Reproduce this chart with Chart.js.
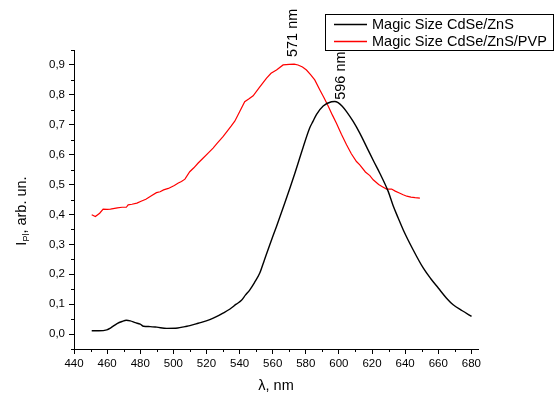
<!DOCTYPE html>
<html><head><meta charset="utf-8">
<script src="https://cdn.jsdelivr.net/npm/chart.js@4/dist/chart.umd.min.js"></script>
<style>html,body{margin:0;padding:0;background:#fff}#wrap{width:557px;height:396px}</style>
</head><body><div id="wrap"><canvas id="c" width="557" height="396"></canvas></div>
<script>
const seriesNames = ['Magic Size CdSe/ZnS', 'Magic Size CdSe/ZnS/PVP'];
const blackX = [450.7,455,459.8,462,466,469,471.6,474,477,480,482,486,490,496,502.7,507,510,515,522,526,530,534,538,541,543.5,546.2,549,552.2,555,558.2,562.3,567.3,573.4,578.4,582.4,584.4,586.5,590.5,595.5,597.5,599.5,602,604.6,608.6,612.6,617.6,621,624.7,629.7,632.7,635.8,638.8,644.8,650.9,655.5,660,665,669,674.5,680.1];
const blackY = [0.011,0.011,0.014,0.02,0.035,0.042,0.046,0.044,0.038,0.033,0.026,0.025,0.023,0.019,0.02,0.025,0.028,0.036,0.048,0.058,0.07,0.083,0.1,0.112,0.13,0.148,0.172,0.204,0.248,0.298,0.36,0.438,0.538,0.625,0.69,0.712,0.735,0.763,0.777,0.778,0.774,0.762,0.744,0.711,0.672,0.616,0.578,0.538,0.478,0.43,0.388,0.349,0.282,0.221,0.185,0.154,0.12,0.098,0.078,0.059];
const redX = [450.7,452.9,455.5,457.6,460,462,466.2,469,471.6,472.7,475,478,480.5,483.4,486.5,489.8,492,494.1,497,500.6,503,504.9,507,509.9,512.4,515,517.9,521,524,526.4,530,532.8,535,537.1,540.1,543.1,545.5,548.2,552,556.3,559,562.3,566.3,570,573,575.3,578,580.4,583,585.4,588.5,591,593.5,596,598.5,601.5,604.6,607.5,610.6,612.6,616,618.7,620.7,624,626.5,628.8,631.8,634,636.5,638.8,641,643.5,646,648.9];
const redY = [0.399,0.393,0.404,0.418,0.417,0.418,0.422,0.424,0.424,0.432,0.434,0.438,0.444,0.451,0.462,0.473,0.476,0.482,0.487,0.497,0.505,0.51,0.518,0.543,0.556,0.572,0.588,0.605,0.622,0.638,0.66,0.68,0.696,0.712,0.744,0.777,0.786,0.797,0.825,0.856,0.872,0.883,0.9,0.902,0.903,0.9,0.893,0.883,0.867,0.85,0.816,0.79,0.763,0.733,0.705,0.668,0.633,0.603,0.577,0.566,0.542,0.53,0.516,0.5,0.492,0.485,0.485,0.478,0.472,0.466,0.461,0.458,0.456,0.4545];
const xTicks = [440,460,480,500,520,540,560,580,600,620,640,660,680];
const xMinorTicks = [450,470,490,510,530,550,570,590,610,630,650,670];
const yTicks = [0,0.1,0.2,0.3,0.4,0.5,0.6,0.7,0.8,0.9];
const yMinorTicks = [-0.05,0.05,0.15,0.25,0.35,0.45,0.55,0.65,0.75,0.85,0.95];
const peakLabels = ['571 nm', '596 nm'];
const peakX = [571, 596];
const peakY = [0.903, 0.78];
const axisTitleX = 'λ, nm';
const axisTitleY = ['I', 'Pl', ', arb. un.'];

const FONT = '"Liberation Sans", Arial, sans-serif';
const colors = ['#000000', '#ff0000'];

const toPts = (xs, ys) => xs.map((x, i) => ({x, y: ys[i]}));

const decor = {
  id: 'decor',
  afterDraw(chart) {
    const ctx = chart.ctx;
    const xs = chart.scales.x, ys = chart.scales.y;
    const ca = chart.chartArea;
    ctx.save();
    ctx.strokeStyle = '#000';
    ctx.lineWidth = 1;
    // minor ticks
    ctx.beginPath();
    xMinorTicks.forEach(v => {
      const p = Math.round(xs.getPixelForValue(v)) + 0.5;
      ctx.moveTo(p, ca.bottom); ctx.lineTo(p, ca.bottom + 3);
    });
    yMinorTicks.forEach(v => {
      const p = Math.round(ys.getPixelForValue(v)) + 0.5;
      ctx.moveTo(ca.left, p); ctx.lineTo(ca.left - 3, p);
    });
    ctx.stroke();

    // peak labels
    ctx.fillStyle = '#000';
    ctx.font = '14.5px ' + FONT;
    const offs = [[2, -7], [9, -1]];
    peakLabels.forEach((t, i) => {
      const px = xs.getPixelForValue(peakX[i]) + offs[i][0];
      const py = ys.getPixelForValue(peakY[i]) + offs[i][1];
      ctx.save();
      ctx.translate(px, py);
      ctx.rotate(-Math.PI / 2);
      ctx.textAlign = 'left';
      ctx.textBaseline = 'middle';
      ctx.fillText(t, 0, 0);
      ctx.restore();
    });

    // y axis title with subscript
    ctx.save();
    ctx.translate(21, 211);
    ctx.rotate(-Math.PI / 2);
    const bigF = '14.5px ' + FONT, smallF = '9px ' + FONT;
    ctx.font = bigF; const w1 = ctx.measureText(axisTitleY[0]).width;
    ctx.font = smallF; const w2 = ctx.measureText(axisTitleY[1]).width;
    ctx.font = bigF; const w3 = ctx.measureText(axisTitleY[2]).width;
    let sx = -(w1 + w2 + w3) / 2;
    ctx.textBaseline = 'alphabetic';
    ctx.font = bigF; ctx.fillText(axisTitleY[0], sx, 5); sx += w1;
    ctx.font = smallF; ctx.fillText(axisTitleY[1], sx, 8); sx += w2;
    ctx.font = bigF; ctx.fillText(axisTitleY[2], sx, 5);
    ctx.restore();

    // legend
    const lx = 325.5, ly = 14.5, lw = 228, lh = 36;
    ctx.fillStyle = '#fff';
    ctx.fillRect(lx, ly, lw, lh);
    ctx.strokeStyle = '#000';
    ctx.lineWidth = 1;
    ctx.strokeRect(lx, ly, lw, lh);
    const rowsY = [24.5, 41.5];
    chart.data.datasets.forEach((ds, i) => {
      ctx.strokeStyle = ds.borderColor;
      ctx.lineWidth = 1.4;
      ctx.beginPath();
      ctx.moveTo(334, rowsY[i]); ctx.lineTo(367, rowsY[i]);
      ctx.stroke();
      ctx.fillStyle = '#000';
      ctx.font = '14.5px ' + FONT;
      ctx.textAlign = 'left';
      ctx.textBaseline = 'middle';
      ctx.fillText(ds.label, 372, rowsY[i] + 0.5);
    });
    ctx.restore();
  }
};

new Chart(document.getElementById('c'), {
  type: 'scatter',
  data: {
    datasets: [
      {label: seriesNames[0], data: toPts(blackX, blackY), borderColor: colors[0], backgroundColor: colors[0], showLine: true, pointRadius: 0, borderWidth: 1.4, cubicInterpolationMode: 'monotone'},
      {label: seriesNames[1], data: toPts(redX, redY), borderColor: colors[1], backgroundColor: colors[1], showLine: true, pointRadius: 0, borderWidth: 1.2, tension: 0}
    ]
  },
  options: {
    responsive: false,
    animation: false,
    devicePixelRatio: 1,
    layout: {padding: {top: 50, right: 79, left: 0, bottom: 0}},
    plugins: {legend: {display: false}, tooltip: {enabled: false}},
    scales: {
      x: {
        type: 'linear', min: 440, max: 684,
        afterBuildTicks: s => { s.ticks = xTicks.map(v => ({value: v})); },
        afterFit: s => { s.height = 47; },
        grid: {display: true, drawOnChartArea: false, drawTicks: true, tickLength: 5, color: '#000', lineWidth: 1},
        border: {display: true, color: '#000', width: 1},
        ticks: {color: '#000', font: {family: FONT, size: 11.5}, padding: 3, maxRotation: 0, autoSkip: false, callback: v => String(v)},
        title: {display: true, text: axisTitleX, color: '#000', font: {family: FONT, size: 14.5}, padding: {top: 0, bottom: 1}}
      },
      y: {
        type: 'linear', min: -0.05, max: 0.95,
        afterBuildTicks: s => { s.ticks = yTicks.map(v => ({value: v})); },
        afterFit: s => { s.width = 74; },
        grid: {display: true, drawOnChartArea: false, drawTicks: true, tickLength: 5, color: '#000', lineWidth: 1},
        border: {display: true, color: '#000', width: 1},
        ticks: {color: '#000', font: {family: FONT, size: 11.5}, padding: 4, autoSkip: false, callback: v => Number(v).toFixed(1).replace('.', ',')}
      }
    }
  },
  plugins: [decor]
});
</script>
</body></html>
